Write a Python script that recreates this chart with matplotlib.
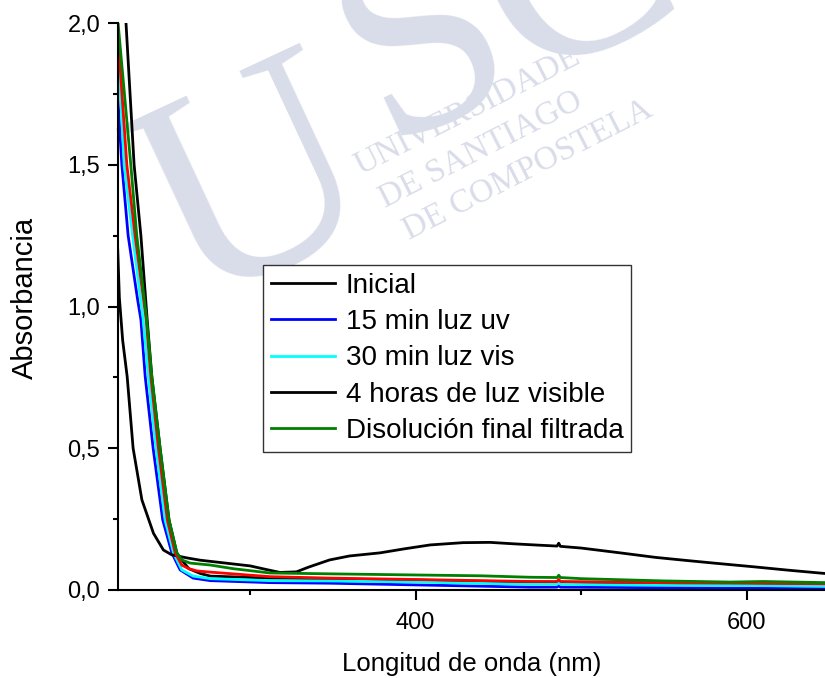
import matplotlib
matplotlib.use('Agg')
import matplotlib.pyplot as plt
from matplotlib.ticker import MultipleLocator, FuncFormatter

plt.rcParams['font.family'] = ['Liberation Sans', 'DejaVu Sans']

# Espectros UV-vis (longitud de onda en nm, absorbancia)
inicial_nm = [220, 221, 223, 225.7, 229.3, 234.6, 241.6, 247.6, 252.7, 262, 270, 285,
              300, 310, 318, 328, 335, 348, 360, 378.5, 393, 408.8, 428.7, 445, 459,
              475, 485.5, 486.5, 487.5, 500, 523.6, 545, 564, 580, 604, 625, 644, 648]
inicial_abs = [1.2, 1.03, 0.88, 0.753, 0.5, 0.318, 0.2, 0.141, 0.124, 0.113, 0.105, 0.095,
               0.085, 0.072, 0.062, 0.064, 0.08, 0.106, 0.12, 0.131, 0.145, 0.159, 0.167, 0.168, 0.163,
               0.158, 0.155, 0.165, 0.154, 0.148, 0.131, 0.115, 0.104, 0.095, 0.082, 0.07, 0.06, 0.058]

uv15_nm = [220, 222.5, 226.3, 232, 234, 236.6, 241.4, 247.2, 252.7, 257.7, 265.6, 276,
           312, 348, 400, 469, 485.5, 486.5, 487.5, 520, 600, 648]
uv15_abs = [1.74, 1.5, 1.25, 1.025, 0.954, 0.753, 0.5, 0.247, 0.131, 0.071, 0.042, 0.033,
            0.026, 0.024, 0.018, 0.01, 0.01, 0.015, 0.01, 0.009, 0.006, 0.004]

vis30_nm = [220, 223.9, 229, 235.4, 238.5, 243.2, 248.6, 253.7, 258.7, 265.6, 276,
            312, 348, 400, 469, 485.5, 486.5, 487.5, 520, 600, 648]
vis30_abs = [1.94, 1.5, 1.25, 0.954, 0.753, 0.5, 0.247, 0.131, 0.071, 0.049, 0.04,
             0.033, 0.032, 0.028, 0.02, 0.02, 0.026, 0.02, 0.018, 0.016, 0.014]

horas4_nm = [220, 225, 229.9, 234, 237.8, 240.6, 245.6, 251, 255.7, 258.7, 263, 270, 276,
             312, 400, 469, 560, 648]
horas4_abs = [2.5, 2.0, 1.5, 1.25, 0.954, 0.753, 0.5, 0.247, 0.131, 0.106, 0.075, 0.058, 0.049,
              0.042, 0.035, 0.028, 0.022, 0.02]

rojo_nm = [220, 225.5, 230.5, 237.2, 240, 244.6, 250, 254.7, 258.7, 263, 268, 276,
           312, 348, 400, 469, 485.5, 486.5, 487.5, 520, 560, 600, 648]
rojo_abs = [1.97, 1.5, 1.25, 0.954, 0.753, 0.5, 0.247, 0.131, 0.088, 0.075, 0.067, 0.063,
            0.047, 0.042, 0.037, 0.03, 0.03, 0.037, 0.03, 0.028, 0.025, 0.024, 0.022]

filtrada_nm = [219, 220.2, 227.9, 231.5, 237.5, 240.6, 245.6, 251, 255.7, 258.7, 263.7, 276,
               290, 312, 348, 400, 440, 469, 485.5, 486.5, 487.5, 500, 550, 590, 610, 648]
filtrada_abs = [2.1, 2.0, 1.5, 1.25, 0.954, 0.753, 0.5, 0.247, 0.131, 0.106, 0.095, 0.088,
                0.075, 0.06, 0.057, 0.053, 0.05, 0.045, 0.044, 0.052, 0.044, 0.04, 0.032, 0.028, 0.03, 0.026]

fig = plt.figure(figsize=(8.25, 6.78), dpi=100)
ax = fig.add_axes([0.1427, 0.1298, 0.8573, 0.8362])
ax.patch.set_alpha(0)

# Marca de agua USC
wm = '#d9dde9'
for (tx, ty, t, fs) in [(0.3145, 0.7112, 'U', 215), (0.618, 0.985, 'SC', 198)]:
    ax.text(tx, ty, t, transform=fig.transFigure, family='Liberation Serif',
            fontsize=fs, color=wm, rotation=25, ha='center', va='center',
            rotation_mode='anchor', zorder=0, clip_on=False)
for (tx, ty, t) in [(0.566, 0.836, 'UNIVERSIDADE'),
                    (0.583, 0.779, 'DE SANTIAGO'),
                    (0.640, 0.749, 'DE COMPOSTELA')]:
    ax.text(tx, ty, t, transform=fig.transFigure, family='Liberation Serif',
            fontsize=24, color=wm, rotation=27, ha='center', va='center',
            rotation_mode='anchor', zorder=0, clip_on=False)

lw = 2.0
ax.plot(horas4_nm, horas4_abs, color='black', lw=lw, label='4 horas de luz visible')
ax.plot(uv15_nm, uv15_abs, color='blue', lw=lw, label='15 min luz uv')
ax.plot(vis30_nm, vis30_abs, color='cyan', lw=lw, label='30 min luz vis')
ax.plot(inicial_nm, inicial_abs, color='black', lw=lw, label='Inicial')
ax.plot(rojo_nm, rojo_abs, color='red', lw=lw)
ax.plot(filtrada_nm, filtrada_abs, color='green', lw=lw, label='Disolución final filtrada')

ax.set_xlim(220, 647.4)
ax.set_ylim(0, 2.0)

for s in ['top', 'right']:
    ax.spines[s].set_visible(False)
for s in ['left', 'bottom']:
    ax.spines[s].set_linewidth(1.5)

ax.xaxis.set_major_locator(MultipleLocator(200))
ax.xaxis.set_minor_locator(MultipleLocator(100))
ax.yaxis.set_major_locator(MultipleLocator(0.5))
ax.yaxis.set_minor_locator(MultipleLocator(0.25))
ax.yaxis.set_major_formatter(FuncFormatter(lambda v, p: f'{v:.1f}'.replace('.', ',')))
ax.tick_params(which='major', direction='out', length=7.5, width=1.5, labelsize=17, pad=5)
ax.tick_params(axis='x', which='major', pad=8)
ax.tick_params(which='minor', direction='out', length=3.6, width=1.5)

ax.set_xlabel('Longitud de onda (nm)', fontsize=18.5)
ax.xaxis.set_label_coords(0.5, -0.11)
ax.set_ylabel('Absorbancia', fontsize=21)
ax.yaxis.set_label_coords(-0.111, 0.515)

h, l = ax.get_legend_handles_labels()
orden = ['Inicial', '15 min luz uv', '30 min luz vis', '4 horas de luz visible',
         'Disolución final filtrada']
hs = [h[l.index(o)] for o in orden]
leg = ax.legend(hs, orden, loc='upper left', bbox_to_anchor=(0.2054, 0.573),
                borderaxespad=0, fontsize=20, frameon=True, fancybox=False,
                edgecolor='#333333', framealpha=1, handlelength=2.3,
                handletextpad=0.4, labelspacing=0.37, borderpad=0.28)
leg.get_frame().set_linewidth(1.0)

fig.savefig('out.png', dpi=100)
